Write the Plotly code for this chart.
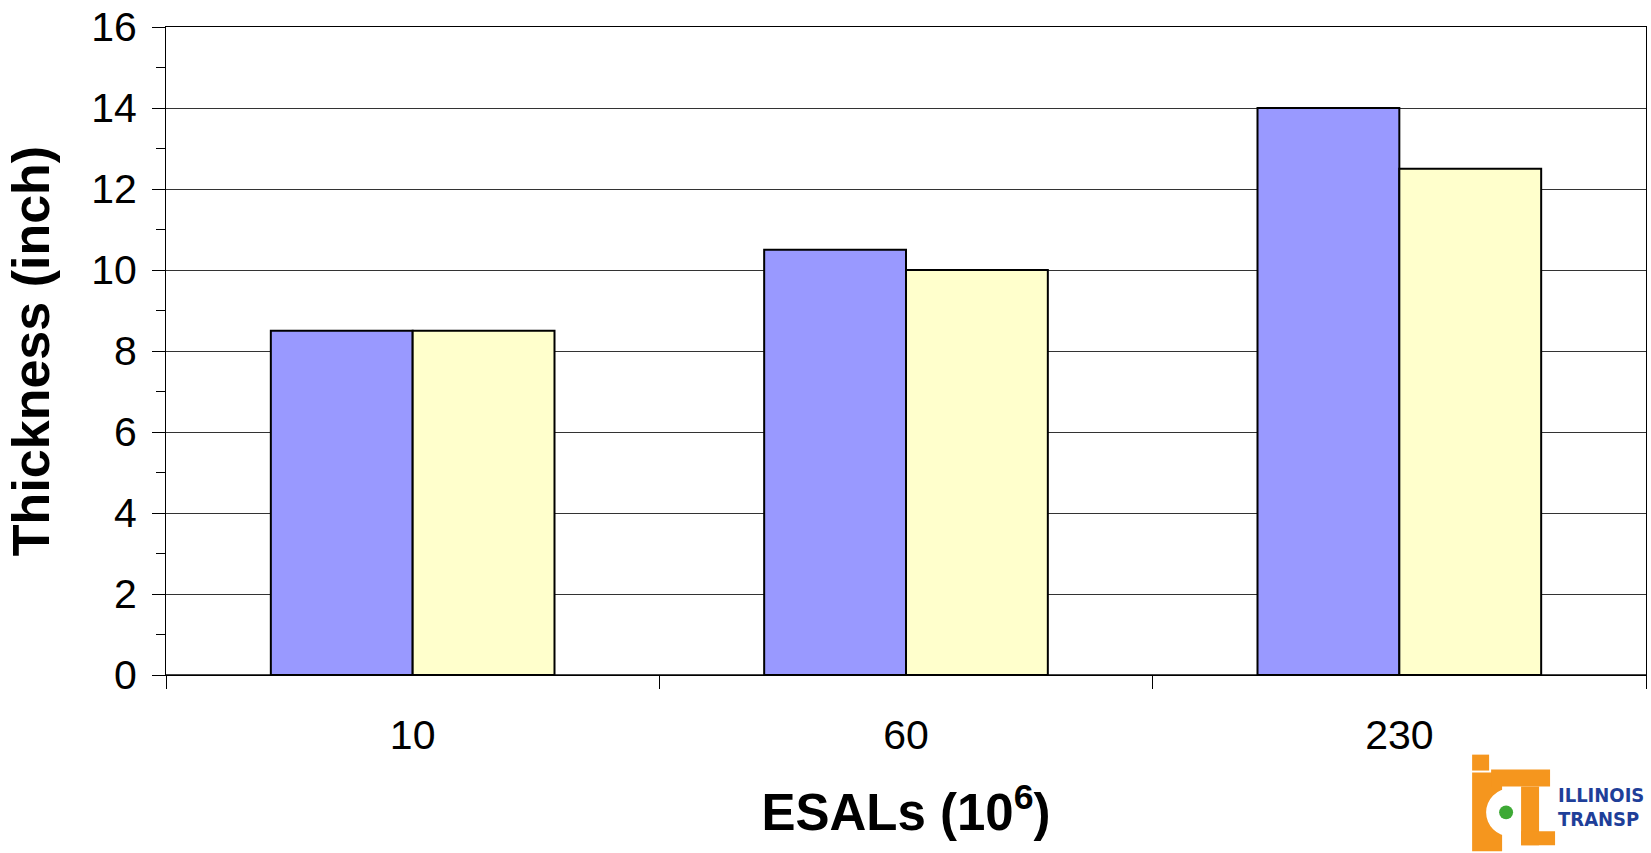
import plotly.graph_objects as go

# ESAL levels (millions) and design thickness for the two pavement designs
esals = ["10", "60", "230"]
thickness_a = [8.5, 10.5, 14.0]
thickness_b = [8.5, 10.0, 12.5]
y_ticks = [0, 2, 4, 6, 8, 10, 12, 14, 16]

W, H = 1651, 853
L, R, T, B = 166, 4, 24, 178
PW, PH = W - L - R, H - T - B

FONT = "Arial, Liberation Sans, Helvetica, sans-serif"
LOGO_FONT = "Liberation Sans Narrow, DejaVu Sans Condensed, Arial Narrow, Liberation Sans, sans-serif"
ORANGE = "#F5961E"


def px(x):
    return (x - L) / PW


def py(y):
    return (H - B - y) / PH


fig = go.Figure()
fig.add_trace(go.Bar(x=esals, y=thickness_a, marker=dict(color="#9999FF", line=dict(color="black", width=2))))
fig.add_trace(go.Bar(x=esals, y=thickness_b, marker=dict(color="#FFFFCC", line=dict(color="black", width=2))))

shapes = []


def rect(x0, y0, x1, y1, color):
    shapes.append(dict(type="rect", xref="paper", yref="paper", x0=px(x0), x1=px(x1),
                       y0=py(y1), y1=py(y0), fillcolor=color, line=dict(width=0), layer="above"))


def disc(cx, cy, r, color):
    shapes.append(dict(type="circle", xref="paper", yref="paper", x0=px(cx - r), x1=px(cx + r),
                       y0=py(cy + r), y1=py(cy - r), fillcolor=color, line=dict(width=0), layer="above"))


# ICT logo mark
rect(1473, 755, 1490, 771, ORANGE)
rect(1473, 773, 1503, 852, ORANGE)
disc(1511, 813, 24, "white")
rect(1492, 770, 1551, 787, ORANGE)
rect(1522, 787, 1540, 846, ORANGE)
rect(1522, 832, 1556, 846, ORANGE)
disc(1507, 813, 7, "#3DA935")

annotations = [
    dict(text="<b>ILLINOIS</b>", xref="paper", yref="paper", x=px(1557), y=py(796), xanchor="left", yanchor="middle",
         showarrow=False, font=dict(family=LOGO_FONT, size=20, color="#1F3F99")),
    dict(text="<b>TRANSP</b>", xref="paper", yref="paper", x=px(1557), y=py(820), xanchor="left",
         yanchor="middle", showarrow=False, font=dict(family=LOGO_FONT, size=20, color="#1F3F99")),
]

fig.update_layout(
    width=W, height=H,
    margin=dict(l=L, r=R, t=T, b=B, pad=0),
    paper_bgcolor="white", plot_bgcolor="white",
    barmode="group", bargap=0.425, bargroupgap=0,
    showlegend=False,
    font=dict(family=FONT, color="black"),
    shapes=shapes,
    annotations=annotations,
)

fig.update_xaxes(
    type="category",
    range=[-0.5, 2.5],
    showline=True, linecolor="black", linewidth=1, mirror=True,
    ticks="outside", tickson="boundaries", ticklen=13, tickcolor="black", tickwidth=1,
    ticklabelstandoff=24,
    tickfont=dict(size=41, family=FONT),
    showgrid=False,
    title=dict(text="<b>ESALs (10<sup>6</sup>)</b>", font=dict(size=51, family=FONT), standoff=37),
)

fig.update_yaxes(
    range=[0, 16],
    tickvals=y_ticks,
    showline=True, linecolor="black", linewidth=1, mirror=True,
    ticks="outside", ticklen=13, tickcolor="black", tickwidth=1,
    ticklabelstandoff=7,
    minor=dict(dtick=1, ticks="outside", ticklen=9, tickcolor="black", showgrid=False),
    showgrid=True, gridcolor="#333333", gridwidth=1,
    zeroline=True, zerolinecolor="#444444", zerolinewidth=2,
    tickfont=dict(size=41, family=FONT),
    title=dict(text="<b>Thickness (inch)</b>", font=dict(size=52, family=FONT), standoff=24),
)

fig.write_html("out.html")
